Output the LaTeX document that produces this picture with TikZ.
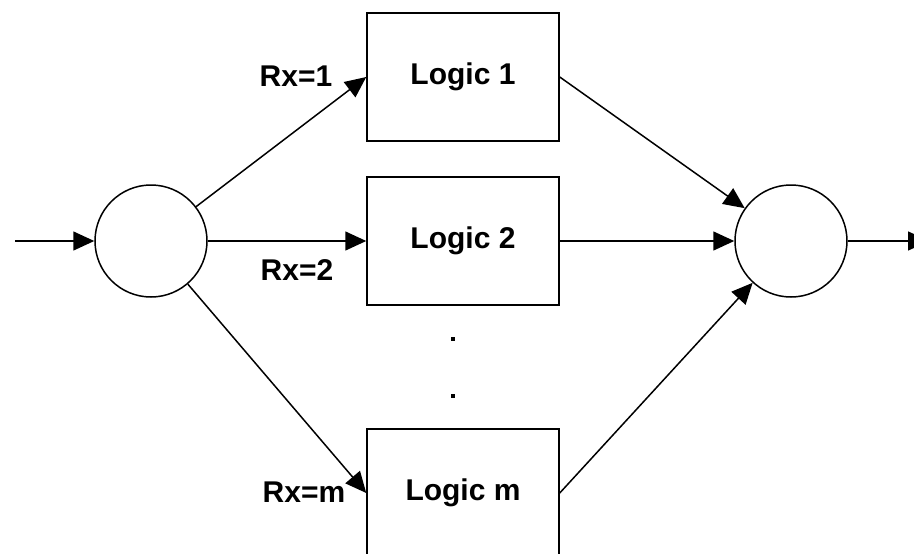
\documentclass[tikz,border=0pt]{standalone}
\usepackage{fontspec}
\setmainfont{Liberation Sans}
\usetikzlibrary{arrows.meta}
\begin{document}
\begin{tikzpicture}[x=1pt,y=-1pt,
  every node/.style={font=\fontsize{30}{36}\selectfont\bfseries},
  logicbox/.style={draw,line width=1.5pt,minimum width=192pt,minimum height=128pt,inner sep=0pt},
  junction/.style={draw,circle,line width=1.5pt,minimum size=112pt,inner sep=0pt},
  conn/.style={line width=1.5pt,-{Triangle[length=21pt,width=19pt]}},
  lbl/.style={inner sep=0pt},
  dotmark/.style={fill,inner sep=0pt,minimum size=4.5pt}
]
\useasboundingbox (0,0) rectangle (914,554);
\clip (0,0) rectangle (914,554);
\node[junction] (lc) at (151,241) {};
\node[junction] (rc) at (791,241) {};
\node[logicbox] (b1) at (463,77) {Logic 1};
\node[logicbox] (b2) at (463,241) {Logic 2};
\node[logicbox] (bm) at (463,493) {Logic m};
\coordinate (in) at (15,241);
\coordinate (out) at (929,241);
\node[lbl] (r1) at (296,76) {Rx=1};
\node[lbl] (r2) at (297,270) {Rx=2};
\node[lbl] (rm) at (304,492) {Rx=m};
\node[dotmark] (d1) at (453,339) {};
\node[dotmark] (d2) at (453,396) {};
\draw[conn] (in) -- (lc);
\draw[conn] (lc) -- (b1.west);
\draw[conn] (lc) -- (b2.west);
\draw[conn] (lc) -- (bm.west);
\draw[conn] (b1.east) -- (rc);
\draw[conn] (b2.east) -- (rc);
\draw[conn] (bm.east) -- (rc);
\draw[conn] (rc) -- (out);
\end{tikzpicture}
\end{document}
